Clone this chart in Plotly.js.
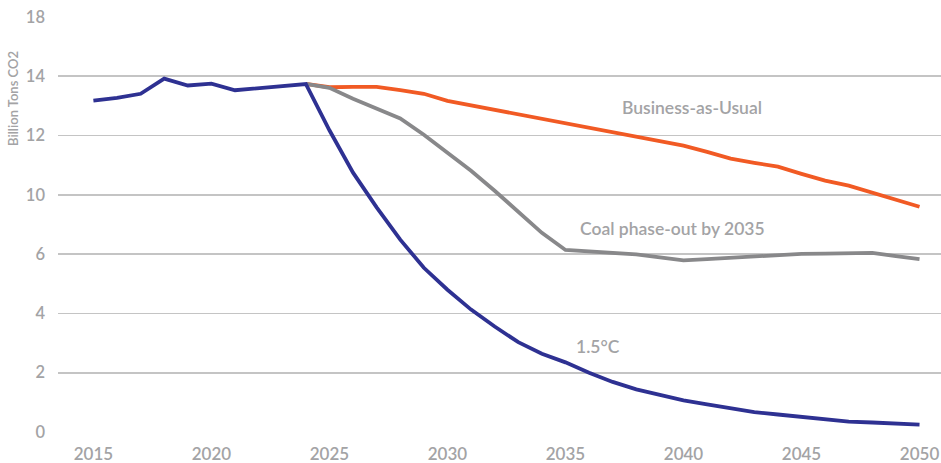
<!DOCTYPE html>
<html>
<head>
<meta charset="utf-8">
<script src="https://cdn.plot.ly/plotly-3.0.1.min.js"></script>
<style>
  html, body { margin: 0; padding: 0; background: #fff; }
  #chart { width: 941px; height: 463px; }
</style>
</head>
<body>
<div id="chart"></div>
<script>
// Years
const yearsAll = [2015,2016,2017,2018,2019,2020,2021,2022,2023,2024,2025,2026,2027,2028,2029,2030,2031,2032,2033,2034,2035,2036,2037,2038,2039,2040,2041,2042,2043,2044,2045,2046,2047,2048,2049,2050];
const yearsFuture = [2024,2025,2026,2027,2028,2029,2030,2031,2032,2033,2034,2035,2036,2037,2038,2039,2040,2041,2042,2043,2044,2045,2046,2047,2048,2049,2050];

// Values in gridline units (gridlines every 2 units; labels as printed on the chart)
const pathway15C = [11.18,11.27,11.41,11.92,11.69,11.75,11.53,11.60,11.66,11.74,
  10.18,8.75,7.58,6.49,5.54,4.80,4.13,3.56,3.03,2.64,2.35,2.00,1.69,1.44,1.25,1.07,
  0.93,0.79,0.67,0.59,0.51,0.43,0.35,0.32,0.28,0.25];
const coalPhaseOut = [11.74,11.61,11.24,10.90,10.58,10.03,9.42,8.81,8.14,7.43,6.72,6.14,
  6.09,6.06,5.99,5.89,5.79,5.83,5.88,5.92,5.97,6.01,6.02,6.03,6.04,5.93,5.83];
const businessAsUsual = [11.74,11.63,11.64,11.64,11.53,11.41,11.17,11.02,10.88,10.73,10.57,10.42,
  10.26,10.13,9.99,9.82,9.66,9.45,9.22,9.08,8.95,8.71,8.48,8.31,8.07,7.84,7.60];

// Axis ticks
const yTickVals = [0,2,4,6,8,10,12,14];
const yTickText = ["0","2","4","6","10","12","14","18"];
const xTickVals = [2015,2020,2025,2030,2035,2040,2045,2050];
const xTickText = ["2015","2020","2025","2030","2035","2040","2045","2050"];

const labelColor = "#a3a3a5";
const fontFam = "Lato, 'Noto Sans', sans-serif";

const traces = [
  { x: yearsFuture, y: businessAsUsual, mode: "lines", name: "Business-as-Usual",
    line: { color: "#f15a24", width: 3.8 }, hoverinfo: "skip" },
  { x: yearsFuture, y: coalPhaseOut, mode: "lines", name: "Coal phase-out by 2035",
    line: { color: "#88888a", width: 3.8 }, hoverinfo: "skip" },
  { x: yearsAll, y: pathway15C, mode: "lines", name: "1.5°C",
    line: { color: "#2e3192", width: 3.8 }, hoverinfo: "skip" }
];

const layout = {
  width: 941, height: 463,
  margin: { l: 58, r: 0, t: 17, b: 31, pad: 0 },
  paper_bgcolor: "#fff", plot_bgcolor: "#fff",
  showlegend: false,
  font: { family: fontFam, color: labelColor },
  xaxis: {
    range: [2013.5, 2050.91],
    tickvals: xTickVals, ticktext: xTickText,
    showgrid: false, zeroline: false, showline: false, ticks: "",
    tickfont: { size: 17, color: labelColor, family: fontFam, weight: 600 },
    ticklabelstandoff: 10,
    fixedrange: true
  },
  yaxis: {
    range: [0, 14],
    tickvals: yTickVals, ticktext: yTickText,
    showgrid: true, gridcolor: "#c4c4c4", gridwidth: 1.6,
    zeroline: false, showline: false, ticks: "",
    tickfont: { size: 16.5, color: labelColor, family: fontFam, weight: 600 },
    ticklabelstandoff: 12,
    fixedrange: true
  },
  annotations: [
    { xref: "paper", yref: "paper", x: -0.051, y: 0.805, xanchor: "center", yanchor: "middle",
      text: "Billion Tons CO2", textangle: -90, showarrow: false,
      font: { size: 13, color: labelColor, family: fontFam, weight: 600 } },
    { xref: "x", yref: "y", x: 2037.3, y: 10.96, xanchor: "left", yanchor: "middle",
      text: "Business-as-Usual", showarrow: false,
      font: { size: 17.5, color: labelColor, family: fontFam, weight: 600 } },
    { xref: "x", yref: "y", x: 2035.55, y: 6.85, xanchor: "left", yanchor: "middle",
      text: "Coal phase-out by 2035", showarrow: false,
      font: { size: 17.5, color: labelColor, family: fontFam, weight: 600 } },
    { xref: "x", yref: "y", x: 2035.35, y: 2.9, xanchor: "left", yanchor: "middle",
      text: "1.5°C", showarrow: false,
      font: { size: 17.5, color: labelColor, family: fontFam, weight: 600 } }
  ]
};

Plotly.newPlot("chart", traces, layout, { staticPlot: true, displayModeBar: false });
</script>
</body>
</html>
